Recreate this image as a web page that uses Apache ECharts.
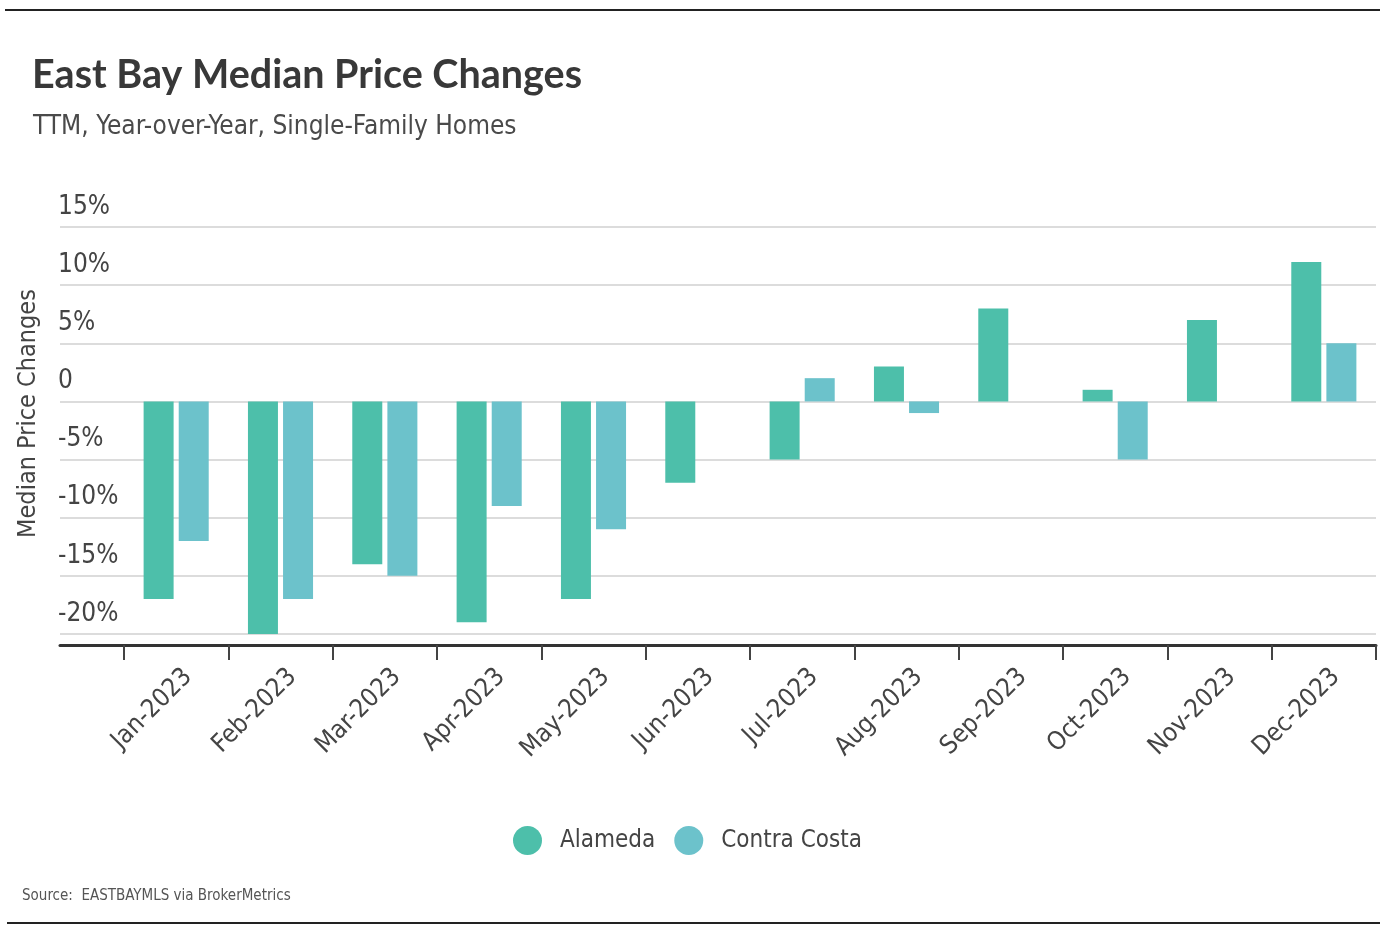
<!DOCTYPE html>
<html>
<head>
<meta charset="utf-8">
<script src="https://cdn.jsdelivr.net/npm/echarts@6/dist/echarts.min.js"></script>
<style>
html,body{margin:0;padding:0;background:#fff;}
#chart{width:1400px;height:942px;}
</style>
</head>
<body>
<div id="chart"></div>
<script>
const categories = ['Jan-2023','Feb-2023','Mar-2023','Apr-2023','May-2023','Jun-2023','Jul-2023','Aug-2023','Sep-2023','Oct-2023','Nov-2023','Dec-2023'];
const alameda = [-17, -20, -14, -19, -17, -7, -5, 3, 8, 1, 7, 12];
const contraCosta = [-12, -17, -15, -9, -11, null, 2, -1, null, -5, null, 5];
const seriesNames = ['Alameda', 'Contra Costa'];
const yMin = -20, yMax = 15, yStep = 5;

const NARROW = "'Liberation Sans Narrow', 'DejaVu Sans Condensed', 'Roboto', sans-serif";
const chart = echarts.init(document.getElementById('chart'));
const yLabelFmt = v => v === 0 ? '0' : v + '%';
const commonY = {
  type: 'value', min: yMin, max: yMax, interval: yStep,
  axisLine: {show: false}, axisTick: {show: false},
  splitLine: {show: true, lineStyle: {color: '#dcdcdc', width: 2}}
};
chart.setOption({
  animation: false,
  backgroundColor: '#fff',
  title: [
    {text: 'East Bay Median Price Changes', left: 27, top: 50,
     textStyle: {fontFamily: 'Lato', fontWeight: 'bold', fontSize: 39.5, color: '#383838'}},
    {text: 'TTM, Year-over-Year, Single-Family Homes', left: 28, top: 109,
     textStyle: {fontFamily: NARROW, fontWeight: 'normal', fontSize: 26, color: '#4a4a4a'}},
    {text: 'Source:  EASTBAYMLS via BrokerMetrics', left: 17, top: 884,
     textStyle: {fontFamily: NARROW, fontWeight: 'normal', fontSize: 15, color: '#555'}}
  ],
  legend: {
    data: seriesNames, left: 508, top: 821, icon: 'circle', itemWidth: 29, itemHeight: 29, itemGap: 19,
    textStyle: {fontFamily: NARROW, fontSize: 24, color: '#444', padding: [0, 0, 0, 13]}
  },
  grid: [
    {left: 60, width: 64, top: 227, bottom: 308},
    {left: 124, right: 24, top: 227, bottom: 308}
  ],
  xAxis: [
    {type: 'category', gridIndex: 0, data: [''], offset: 11,
     axisLine: {onZero: false, lineStyle: {color: '#333', width: 3}}, axisTick: {show: false}, axisLabel: {show: false}},
    {type: 'category', gridIndex: 1, data: categories, offset: 11,
     axisLine: {onZero: false, lineStyle: {color: '#333', width: 3}},
     axisTick: {show: true, length: 15, lineStyle: {color: '#444', width: 2}},
     axisLabel: {rotate: 45, margin: 16, formatter: v => '{a|' + v + '}',
       rich: {a: {fontFamily: NARROW, fontSize: 25.5, color: '#444', lineHeight: 30, padding: [34, 0, 0, 0]}}}}
  ],
  yAxis: [
    Object.assign({}, commonY, {gridIndex: 0, name: 'Median Price Changes', nameLocation: 'middle', nameGap: 19,
      nameTextStyle: {fontFamily: NARROW, fontSize: 25, color: '#444', padding: [0, 0, 0, 34]},
      axisLabel: {inside: true, formatter: yLabelFmt, fontFamily: NARROW, fontSize: 26, color: '#444',
        align: 'left', verticalAlign: 'bottom', margin: -2, padding: [0, 0, 7, 0]}}),
    Object.assign({}, commonY, {gridIndex: 1, axisLabel: {show: false}})
  ],
  series: [
    {name: seriesNames[0], type: 'bar', xAxisIndex: 1, yAxisIndex: 1, data: alameda,
     barWidth: 30, barGap: '17%', itemStyle: {color: '#4dbfaa'}},
    {name: seriesNames[1], type: 'bar', xAxisIndex: 1, yAxisIndex: 1, data: contraCosta,
     barWidth: 30, barGap: '17%', itemStyle: {color: '#6cc2cb'}}
  ],
  graphic: [
    {type: 'line', shape: {x1: 5, y1: 10, x2: 1380, y2: 10}, style: {stroke: '#222', lineWidth: 2}},
    {type: 'line', shape: {x1: 7, y1: 923, x2: 1380, y2: 923}, style: {stroke: '#222', lineWidth: 2}}
  ]
});
</script>
</body>
</html>
